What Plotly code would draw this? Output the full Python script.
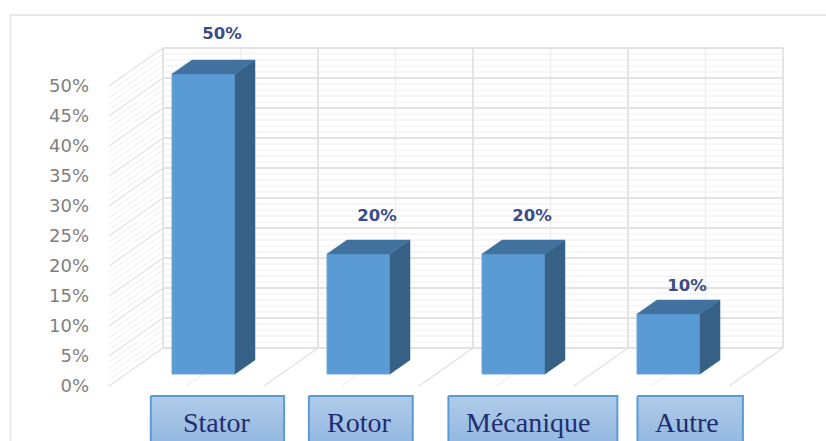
import plotly.graph_objects as go

categories = ["Stator", "Rotor", "Mécanique", "Autre"]
values = [50, 20, 20, 10]
value_labels = ["50%", "20%", "20%", "10%"]
y_ticks = [0, 5, 10, 15, 20, 25, 30, 35, 40, 45, 50]
y_tick_labels = ["0%", "5%", "10%", "15%", "20%", "25%", "30%", "35%", "40%", "45%", "50%"]
label_lift = [6.45, 6.15, 6.15, 4.45]
label_boxes = [(-0.34, 0.52), (0.68, 1.35), (1.58, 2.67), (2.8, 3.48)]
text_centers = [0.084, 1.0, 2.094, 3.12]

W, H = 826, 441
PITCH = 155.0
X0 = 203.5
PXY = 6.0
Y0 = 386
ux = lambda p: (p - X0) / PITCH
uy = lambda p: (Y0 - p) / PXY

fig = go.Figure()


def segs(pts, color, width):
    path = " ".join(f"M {a} {b} L {c} {d}" for (a, b, c, d) in pts)
    fig.add_shape(type="path", path=path, xref="x", yref="y", layer="below",
                  line=dict(color=color, width=width))


# wall geometry, in axis units
depth_x = 54 / PITCH
depth_y = 38 / PXY
wall_left = ux(163)
wall_xs = [wall_left + i for i in range(5)]
minor_vals = [v for v in range(0, 51) if v % 5]
back = lambda v: v + depth_y

segs([(wall_left, back(v), wall_xs[-1], back(v)) for v in minor_vals], "#eeeeee", 1)
segs([(wall_left - depth_x, v, wall_left, back(v)) for v in minor_vals], "#eeeeee", 1)
segs([(x + 0.5, back(0), x + 0.5, back(50)) for x in wall_xs[:-1]], "#eeeeee", 1.5)
segs([(x + 0.5 - depth_x, 0, x + 0.5, back(0)) for x in wall_xs[:-1]], "#f0f0f0", 1.2)
segs([(wall_left, back(v), wall_xs[-1], back(v)) for v in y_ticks], "#e2e2e2", 1.8)
segs([(wall_left - depth_x, v, wall_left, back(v)) for v in y_ticks], "#e2e2e2", 1.2)
segs([(x, back(0), x, back(50)) for x in wall_xs], "#e2e2e2", 1.8)
segs([(x - depth_x, 0, x, back(0)) for x in wall_xs[1:]], "#e2e2e2", 1.5)

# bars: front faces through the library's bar trace
BAR_W = 63 / PITCH
BASE = 12 / PXY
SIDE_X = 20 / PITCH
SIDE_Y = 14 / PXY
idx = list(range(len(values)))
fig.add_trace(go.Bar(x=idx, y=values, base=BASE, width=BAR_W,
                     marker=dict(color="#5b9bd5", line=dict(color="#6aa5da", width=1)),
                     hoverinfo="skip", showlegend=False))
for i, v in zip(idx, values):
    r = i + BAR_W / 2
    l = i - BAR_W / 2
    t = v + BASE
    fig.add_trace(go.Scatter(x=[r, r + SIDE_X, r + SIDE_X, r, r], y=[BASE, BASE + SIDE_Y, t + SIDE_Y, t, BASE],
                             mode="lines", fill="toself", fillcolor="#376087", line=dict(color="#376087", width=0.5),
                             hoverinfo="skip", showlegend=False))
    fig.add_trace(go.Scatter(x=[l, l + SIDE_X, r + SIDE_X, r, l], y=[t, t + SIDE_Y, t + SIDE_Y, t, t],
                             mode="lines", fill="toself", fillcolor="#41729f", line=dict(color="#41729f", width=0.5),
                             hoverinfo="skip", showlegend=False))

# value labels
fig.add_trace(go.Scatter(x=[i + 18.5 / PITCH for i in idx], y=[v + BASE + d for v, d in zip(values, label_lift)],
                         mode="text", text=value_labels,
                         textfont=dict(family="DejaVu Sans", size=16.5, color="#3a4d86", weight="bold"),
                         hoverinfo="skip", showlegend=False))

# category boxes with gradient fill
box_bottom = uy(445)
box_top = uy(396)
for (a, b), name, c in zip(label_boxes, categories, text_centers):
    fig.add_trace(go.Scatter(x=[a, b, b, a, a], y=[box_top, box_top, box_bottom, box_bottom, box_top],
                             mode="lines", fill="toself",
                             fillgradient=dict(type="vertical", colorscale=[[0, "#92b7e1"], [1, "#b0cbe9"]]),
                             line=dict(color="#5b9bd5", width=2), hoverinfo="skip", showlegend=False))
    fig.add_annotation(x=c, y=uy(422), text=name, showarrow=False,
                       font=dict(family="Liberation Serif", size=28, color="#1f2d6e"))

# outer frame
fig.add_shape(type="rect", xref="paper", yref="paper", x0=10.5 / W, x1=1.02, y0=-0.02, y1=1 - 15 / H,
              line=dict(color="#e8e8e8", width=2), fillcolor="rgba(0,0,0,0)", layer="below")

fig.update_layout(
    width=W, height=H, margin=dict(l=0, r=0, t=0, b=0), plot_bgcolor="white", paper_bgcolor="white",
    xaxis=dict(range=[ux(0), ux(W)], domain=[0, 1], visible=False, fixedrange=True),
    yaxis=dict(range=[uy(H), uy(0)], domain=[0, 1], anchor="free", position=89 / W, showgrid=False, zeroline=False,
               showline=False, ticks="", tickmode="array", tickvals=y_ticks, ticktext=y_tick_labels,
               tickfont=dict(family="DejaVu Sans", size=18, color="#7f7f7f"), fixedrange=True),
)
fig.write_html("out.html", config={"displayModeBar": False},
               post_script="document.body.style.margin='0';document.documentElement.style.overflow='hidden';")
